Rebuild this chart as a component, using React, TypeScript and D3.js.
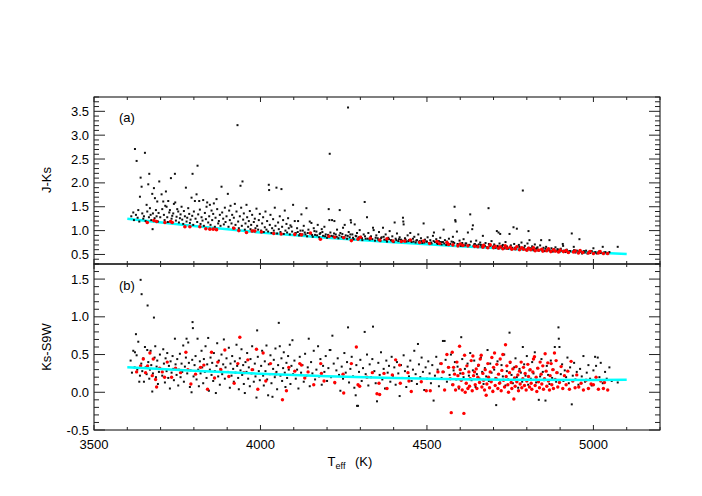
import React from "react";
import * as d3 from "d3";

type P = [number, number];

const xTickLabels = [3500, 4000, 4500, 5000];
const topTickLabels = [0.5, 1.0, 1.5, 2.0, 2.5, 3.0, 3.5];
const botTickLabels = [-0.5, 0.0, 0.5, 1.0, 1.5];

const topFit: P[] = [[3600,1.25],[3800,1.095],[4000,0.96],[4200,0.85],[4400,0.755],[4600,0.67],[4800,0.6],[5000,0.54],[5100,0.51]];
const botFit: P[] = [[3600,0.33],[3800,0.285],[4000,0.245],[4200,0.212],[4400,0.188],[4600,0.172],[4800,0.165],[5000,0.164],[5100,0.166]];

const topBlack: P[] = [
[3612,1.30],[3618,1.38],[3620,1.22],[3623,2.71],[3626,1.33],[3628,2.46],[3631,1.27],[3633,1.43],[3636,1.19],[3638,1.71],[3640,2.11],[3643,1.92],[3645,1.36],[3648,1.25],[3650,1.30],[3653,2.63],[3655,1.20],[3658,1.54],[3660,1.40],[3663,1.97],[3665,1.28],[3666,2.19],[3668,1.47],[3670,1.33],[3672,1.22],[3675,1.77],[3676,1.03],[3677,1.36],[3680,1.89],[3682,1.26],[3683,1.68],[3686,1.43],[3688,1.30],[3690,1.61],[3692,1.19],[3694,1.37],[3696,2.03],[3699,1.28],
[3703,1.76],[3705,1.45],[3708,1.61],[3710,1.33],[3712,1.22],[3714,1.52],[3716,1.82],[3718,1.50],[3720,1.28],[3722,1.18],[3723,1.62],[3726,1.38],[3728,1.43],[3731,2.10],[3733,1.25],[3735,1.31],[3738,1.36],[3740,1.56],[3743,2.19],[3744,1.59],[3746,1.21],[3748,1.29],[3750,1.45],[3753,1.40],[3755,1.17],[3758,1.26],[3760,1.34],[3763,1.50],[3765,1.23],[3768,1.14],[3770,1.41],[3773,1.30],[3776,1.90],[3778,1.19],[3780,1.27],[3783,1.47],[3786,1.35],[3788,1.16],[3790,1.23],[3793,1.69],[3795,1.31],[3796,2.19],[3798,1.12],[3800,1.40],
[3803,1.62],[3805,1.25],[3808,1.76],[3810,1.18],[3811,2.36],[3813,1.34],[3816,1.62],[3818,1.44],[3820,1.14],[3823,1.28],[3826,1.21],[3828,1.64],[3830,1.10],[3833,1.37],[3836,1.24],[3838,1.50],[3840,1.59],[3843,1.17],[3846,1.30],[3848,1.54],[3850,1.12],[3853,1.42],[3855,1.22],[3858,1.35],[3860,1.57],[3863,1.08],[3865,1.27],[3868,1.66],[3870,1.45],[3873,1.15],[3875,1.20],[3878,1.33],[3880,1.10],[3883,1.92],[3885,1.38],[3888,1.25],[3890,1.13],[3893,1.48],[3895,1.18],[3898,1.30],
[3902,1.77],[3904,1.08],[3906,1.42],[3908,1.22],[3910,1.52],[3913,1.15],[3915,1.33],[3918,1.06],[3920,1.27],[3923,1.56],[3925,1.12],[3928,1.40],[3931,3.21],[3933,1.19],[3935,1.05],[3938,1.30],[3940,1.94],[3942,1.48],[3944,1.10],[3946,2.03],[3948,1.23],[3950,1.36],[3953,1.02],[3955,1.15],[3958,1.54],[3960,1.28],[3963,1.08],[3965,1.20],[3968,1.41],[3970,1.03],[3972,1.12],[3975,1.33],[3978,1.00],[3980,1.18],[3983,1.25],[3985,1.05],[3988,1.46],[3990,1.10],[3993,1.02],[3995,1.22],[3998,1.35],
[4002,1.00],[4005,1.15],[4008,1.28],[4010,0.97],[4013,1.07],[4015,1.40],[4018,1.02],[4020,1.20],[4023,0.98],[4025,1.96],[4026,1.85],[4028,1.12],[4030,1.33],[4033,0.95],[4035,1.05],[4038,1.24],[4040,1.00],[4043,1.48],[4045,1.10],[4048,1.90],[4050,0.94],[4053,1.17],[4055,1.03],[4058,1.30],[4060,0.97],[4063,1.87],[4065,1.08],[4068,1.22],[4070,0.93],[4073,1.42],[4075,1.00],[4078,1.14],[4080,0.96],[4083,1.26],[4085,1.05],[4088,0.92],[4090,1.11],[4093,1.08],[4095,0.98],[4098,1.54],
[4103,1.20],[4106,0.95],[4110,1.05],[4113,1.20],[4116,0.90],[4120,1.00],[4123,1.34],[4126,0.92],[4130,1.10],[4133,0.96],[4138,1.47],[4140,0.88],[4144,1.02],[4148,1.19],[4150,0.94],[4153,1.16],[4157,0.87],[4160,1.05],[4164,0.91],[4168,0.98],[4172,1.12],[4176,0.86],[4180,0.95],[4184,1.03],[4188,0.89],[4192,1.08],[4196,0.92],[4200,0.85],[4205,1.45],[4207,1.22],[4208,2.61],[4210,0.96],[4215,1.22],[4218,0.88],[4222,1.20],[4226,0.92],[4230,1.02],[4234,0.84],[4238,1.43],[4240,0.95],[4244,0.87],[4248,1.06],[4253,1.12],[4256,0.90],[4260,0.83],[4263,3.58],[4265,0.97],[4268,0.86],[4271,1.22],[4272,1.17],[4276,0.92],[4280,0.82],[4283,1.13],[4286,0.89],[4290,0.95],[4294,0.84],[4298,1.01],
[4302,0.87],[4306,0.80],[4310,0.92],[4313,1.60],[4316,0.83],[4320,1.28],[4324,0.95],[4328,0.81],[4332,0.88],[4338,1.06],[4340,1.01],[4344,0.79],[4348,0.90],[4352,0.84],[4356,0.97],[4360,0.78],[4364,0.86],[4368,1.06],[4372,0.81],[4376,0.92],[4380,0.77],[4384,0.85],[4388,0.99],[4392,0.80],[4396,0.88],[4400,0.76],[4403,1.17],[4406,0.83],[4410,0.94],[4414,0.78],[4418,0.86],[4422,0.81],[4428,1.27],[4429,1.19],[4430,1.13],[4434,0.84],[4438,0.77],[4442,0.90],[4446,0.80],[4450,0.95],[4454,0.76],[4458,0.83],[4462,0.87],[4466,0.75],[4470,0.80],[4474,0.92],[4478,0.78],[4482,0.84],[4486,0.74],[4490,1.15],[4494,0.81],[4498,0.77],
[4502,0.86],[4506,0.74],[4510,0.80],[4514,0.73],[4518,0.89],[4521,0.96],[4524,0.76],[4528,0.82],[4532,0.72],[4536,0.78],[4540,0.85],[4544,0.71],[4548,0.76],[4550,1.02],[4554,0.80],[4558,0.70],[4562,0.74],[4566,0.83],[4570,0.72],[4574,0.77],[4578,0.87],[4579,0.76],[4583,1.50],[4585,1.22],[4586,1.19],[4590,0.98],[4594,0.71],[4598,0.79],[4602,0.68],[4606,0.74],[4610,0.82],[4614,0.69],[4618,0.73],[4623,0.96],[4626,0.70],[4630,1.34],[4632,0.77],[4636,1.03],[4638,1.11],[4640,0.68],[4644,0.72],[4648,0.79],[4652,0.67],[4656,0.71],[4660,0.75],[4664,0.66],[4668,0.89],[4672,0.70],[4676,0.74],[4680,0.65],[4685,1.47],[4686,0.72],[4690,0.68],[4694,0.78],[4698,0.66],
[4702,0.71],[4706,0.64],[4710,0.99],[4712,0.68],[4715,0.96],[4718,0.73],[4720,0.93],[4724,0.65],[4728,0.70],[4732,0.63],[4736,0.76],[4740,0.67],[4744,0.62],[4748,0.93],[4752,0.69],[4756,0.64],[4760,1.07],[4762,0.72],[4766,0.61],[4770,1.04],[4772,0.66],[4776,0.70],[4780,0.62],[4784,0.75],[4788,1.84],[4790,0.64],[4794,0.68],[4798,0.60],[4802,0.73],[4805,0.99],[4808,0.80],[4812,0.63],[4816,0.67],[4820,0.59],[4824,0.71],[4828,0.62],[4832,0.65],[4836,0.58],[4840,0.69],[4843,0.80],[4846,0.61],[4850,0.64],[4854,0.57],[4858,0.66],[4862,0.60],[4868,0.80],[4870,0.58],[4874,0.63],[4878,0.56],[4882,0.61],[4886,0.65],[4890,0.57],[4894,0.60],[4898,0.55],[4902,0.62],[4908,0.72],[4909,0.68],[4912,0.58],[4916,0.55],[4920,0.60],[4924,0.54],[4928,0.57],[4935,0.94],[4938,0.56],[4941,0.66],[4942,0.59],[4946,0.54],[4950,0.58],[4954,0.53],[4958,0.82],[4962,0.56],[4966,0.52],[4970,0.56],[4974,0.54],[4978,0.58],[4982,0.52],[4986,0.55],[4990,0.53],[4995,0.57],[5000,0.63],[5004,0.54],[5010,0.52],[5016,0.55],[5022,0.53],[5028,0.66],[5032,0.54],[5040,0.52],[5048,0.55],[5073,0.66],
[4104,0.94],[4112,0.97],[4119,0.93],[4127,1.00],[4135,0.92],[4142,0.95],[4155,0.91],[4162,0.99],[4170,0.90],[4178,0.93],[4186,0.97],[4194,0.88],[4203,0.91],[4213,0.89],[4221,0.94],[4229,0.87],[4237,0.90],[4246,0.93],[4252,0.86],[4262,0.89],[4270,0.92],[4278,0.85],[4288,0.88],[4296,0.86],[4305,0.84],[4314,0.88],[4322,0.83],[4330,0.86],[4336,0.82],[4346,0.85],[4354,0.81],[4362,0.84],[4370,0.87],[4378,0.80],[4386,0.82],[4394,0.79],[4408,0.80],[4416,0.82],[4425,0.79],[4436,0.81],[4444,0.78],[4452,0.80],[4460,0.77],[4468,0.79],[4476,0.76],[4484,0.78],[4492,0.75],[4500,0.77],[4512,0.75],[4520,0.78],[4530,0.74],[4542,0.76],[4552,0.73],[4560,0.77],[4568,0.72],[4582,0.74],[4592,0.72],[4604,0.71],[4616,0.73],[4628,0.70],[4642,0.71],[4650,0.69],[4662,0.70],[4674,0.68],[4688,0.69],[4700,0.67],[4714,0.66],[4726,0.68],[4738,0.65],[4750,0.66],[4764,0.64],[4778,0.66],[4792,0.63],[4806,0.64],[4818,0.62],[4830,0.63],[4844,0.60],[4856,0.62],[4866,0.60],[4880,0.59],[4892,0.61],[4904,0.58],[4918,0.59],[4930,0.57],[4944,0.58],[4956,0.56],[4972,0.57],[4988,0.56],[5006,0.55],[5018,0.57],[5036,0.55]
];

const topRed: P[] = [
[3660,1.17],[3680,1.21],[3688,1.19],[3713,1.17],[3730,1.19],[3735,1.17],[3773,1.08],[3788,1.08],[3818,1.08],[3836,1.04],[3848,1.03],[3858,1.03],[3868,1.02],[3920,1.05],[3935,1.00],[3958,0.96],[3975,0.99],[3983,0.99],[4003,0.97],[4040,0.94],[4062,0.93],[4103,0.92],[4123,0.91],[4150,0.95],[4180,0.82],[4206,0.88],[4223,0.86],[4250,0.85],[4273,0.79],[4293,0.82],[4300,0.86],[4330,0.84],[4358,0.80],[4380,0.83],[4398,0.78],[4423,0.77],[4433,0.78],[4450,0.80],[4478,0.75],[4490,0.78],[4508,0.73],[4530,0.77],[4538,0.73],[4560,0.75],[4565,0.71],[4578,0.70],[4593,0.68],[4600,0.72],[4608,0.69],[4623,0.68],[4643,0.67],[4653,0.66],[4668,0.65],[4670,0.69],[4683,0.64],[4690,0.70],[4700,0.64],[4705,0.67],[4715,0.63],[4720,0.66],[4728,0.62],[4735,0.68],[4740,0.63],[4750,0.65],[4755,0.61],[4765,0.62],[4770,0.66],[4778,0.60],[4785,0.64],[4790,0.61],[4800,0.59],[4805,0.63],[4812,0.60],[4820,0.64],[4825,0.58],[4835,0.59],[4845,0.61],[4848,0.57],[4860,0.58],[4865,0.62],[4872,0.56],[4880,0.60],[4885,0.57],[4895,0.55],[4900,0.59],[4910,0.56],[4918,0.58],[4925,0.54],[4940,0.55],[4945,0.57],[4955,0.53],[4960,0.58],[4968,0.54],[4985,0.53],[4990,0.56],[5000,0.52],[5015,0.53],[5020,0.56],[5030,0.52],[5043,0.52]
];

const botBlack: P[] = [
[3610,0.42],[3614,0.26],[3618,0.55],[3622,0.33],[3623,0.53],[3626,0.77],[3628,0.49],[3630,0.30],[3633,0.67],[3636,0.14],[3638,0.22],[3640,1.49],[3642,0.38],[3643,1.30],[3645,0.28],[3648,0.45],[3650,0.14],[3653,0.60],[3655,0.33],[3658,0.24],[3660,0.56],[3661,1.15],[3663,0.40],[3666,0.18],[3668,0.30],[3670,0.55],[3672,0.36],[3675,0.01],[3677,0.25],[3680,0.99],[3682,0.46],[3684,0.61],[3686,0.20],[3688,0.34],[3690,0.42],[3692,0.11],[3695,0.27],[3698,0.50],
[3702,0.31],[3705,0.22],[3708,0.57],[3710,0.38],[3713,0.13],[3715,0.45],[3718,0.28],[3720,0.52],[3723,0.19],[3725,0.35],[3728,0.05],[3730,0.41],[3733,0.26],[3736,0.48],[3738,0.31],[3740,0.16],[3743,0.71],[3745,0.37],[3748,0.23],[3750,0.44],[3753,0.09],[3755,0.30],[3758,0.51],[3760,0.20],[3763,0.38],[3765,0.27],[3768,0.62],[3770,0.14],[3773,0.34],[3776,0.46],[3778,0.71],[3780,0.25],[3783,0.66],[3785,0.39],[3788,0.07],[3790,0.29],[3793,0.00],[3795,0.43],[3796,0.93],[3797,0.85],[3799,0.21],
[3802,0.36],[3805,0.48],[3808,0.17],[3811,0.71],[3813,0.30],[3815,0.08],[3818,0.41],[3820,0.25],[3823,0.55],[3825,0.33],[3828,0.12],[3830,0.44],[3833,0.27],[3835,0.61],[3838,0.19],[3840,0.37],[3843,0.72],[3845,0.02],[3848,0.30],[3850,0.46],[3853,0.23],[3855,0.39],[3858,0.15],[3860,0.52],[3863,0.28],[3866,-0.01],[3868,0.35],[3870,0.65],[3873,0.21],[3875,0.42],[3878,0.10],[3880,0.31],[3883,0.50],[3885,0.24],[3888,0.37],[3890,0.70],[3893,0.18],[3895,0.33],[3898,0.45],
[3902,0.27],[3905,0.59],[3908,0.06],[3910,0.38],[3913,0.22],[3915,0.48],[3918,0.31],[3920,0.14],[3923,0.41],[3925,0.26],[3928,0.63],[3930,0.35],[3933,0.19],[3935,0.04],[3938,0.45],[3940,0.29],[3943,0.57],[3945,0.23],[3948,0.36],[3950,0.11],[3953,-0.01],[3955,0.40],[3958,0.27],[3960,0.52],[3963,0.18],[3965,0.33],[3968,0.08],[3970,0.44],[3973,0.25],[3975,0.61],[3978,0.30],[3980,0.14],[3983,0.38],[3985,0.21],[3988,-0.07],[3990,0.82],[3992,0.47],[3995,0.28],[3998,0.16],
[4002,0.35],[4005,0.55],[4008,0.22],[4010,0.09],[4013,0.41],[4015,0.28],[4018,0.62],[4020,0.17],[4023,-0.04],[4025,0.37],[4028,0.24],[4030,0.49],[4033,0.12],[4036,-0.06],[4038,0.31],[4040,0.43],[4043,0.20],[4045,0.58],[4048,0.27],[4050,0.04],[4053,0.36],[4055,0.92],[4058,0.61],[4060,0.22],[4063,0.45],[4065,0.15],[4068,0.32],[4070,0.53],[4073,0.26],[4075,0.07],[4078,0.39],[4080,0.19],[4083,0.48],[4085,0.30],[4088,0.63],[4090,0.11],[4093,0.35],[4096,0.69],[4098,0.24],
[4102,0.42],[4106,0.18],[4110,0.30],[4114,0.05],[4118,0.47],[4122,0.26],[4126,0.36],[4130,0.14],[4134,0.51],[4138,0.22],[4142,0.33],[4145,0.71],[4148,0.08],[4152,0.40],[4156,0.25],[4160,0.55],[4164,0.17],[4168,0.30],[4173,0.61],[4176,0.21],[4180,0.44],[4184,0.10],[4188,0.35],[4192,0.27],[4196,0.48],[4200,0.15],[4204,0.32],[4208,0.56],[4210,0.56],[4212,0.20],[4216,0.75],[4220,0.38],[4224,0.12],[4228,0.29],[4232,0.45],[4236,0.23],[4240,0.02],[4244,0.34],[4248,0.18],[4252,0.52],[4256,0.26],[4260,0.40],[4263,0.86],[4266,0.13],[4270,0.31],[4274,0.47],[4278,0.21],[4282,0.06],[4286,-0.04],[4288,0.36],[4290,-0.18],[4293,-0.18],[4296,0.27],
[4300,0.43],[4304,0.15],[4308,0.32],[4313,0.80],[4316,0.24],[4320,0.50],[4324,0.09],[4328,0.37],[4332,0.20],[4336,0.44],[4338,0.87],[4342,0.28],[4346,0.12],[4350,-0.12],[4354,0.39],[4358,0.23],[4362,0.53],[4366,0.17],[4370,0.31],[4374,0.05],[4378,0.42],[4382,0.26],[4386,0.35],[4390,0.14],[4394,0.47],[4398,0.22],[4402,0.33],[4406,0.10],[4410,0.40],[4414,0.25],[4418,-0.05],[4422,0.36],[4426,0.19],[4430,0.49],[4434,0.28],[4438,0.07],[4442,0.34],[4446,0.21],[4450,0.42],[4454,0.15],[4458,0.30],[4462,0.55],[4466,0.24],[4470,0.11],[4473,0.64],[4476,0.37],[4480,0.20],[4484,0.46],[4488,0.27],[4492,0.03],[4496,0.33],
[4500,0.18],[4504,0.41],[4508,0.25],[4512,0.12],[4516,0.36],[4520,-0.11],[4524,0.22],[4528,0.47],[4532,0.30],[4536,0.08],[4540,0.38],[4544,0.19],[4548,0.68],[4550,0.27],[4553,0.68],[4556,0.43],[4560,0.14],[4564,0.33],[4568,0.23],[4572,0.50],[4576,0.10],[4580,0.29],[4584,0.40],[4588,0.17],[4592,0.34],[4596,0.05],[4600,0.25],[4603,0.73],[4606,0.44],[4610,0.20],[4614,0.31],[4618,0.12],[4622,0.38],[4626,0.22],[4630,0.52],[4634,0.16],[4638,0.29],[4642,0.42],[4646,0.07],[4650,0.24],[4654,0.35],[4658,0.18],[4662,0.46],[4666,0.27],[4670,0.11],[4674,0.32],[4678,0.21],[4682,0.56],[4686,0.15],[4690,0.38],[4694,0.26],[4698,0.02],
[4702,0.30],[4706,0.19],[4708,-0.17],[4712,0.41],[4716,0.24],[4720,0.13],[4724,0.36],[4728,0.21],[4732,0.50],[4736,0.09],[4740,0.28],[4744,0.17],[4748,0.79],[4750,0.39],[4754,0.23],[4758,0.12],[4762,0.33],[4766,0.45],[4770,0.20],[4774,0.06],[4778,0.31],[4782,0.26],[4786,0.14],[4788,0.60],[4792,0.37],[4796,0.22],[4800,0.48],[4804,0.10],[4808,0.29],[4812,0.18],[4816,0.40],[4820,0.25],[4824,0.53],[4828,0.13],[4832,0.32],[4836,-0.10],[4840,0.21],[4844,0.44],[4848,0.27],[4852,0.16],[4856,-0.11],[4860,0.35],[4864,0.23],[4868,0.11],[4872,0.42],[4876,0.19],[4880,0.30],[4884,0.60],[4888,0.14],[4892,0.26],[4895,0.86],[4896,0.71],[4898,0.60],
[4902,0.24],[4906,0.37],[4910,0.15],[4914,0.29],[4918,0.20],[4922,0.46],[4926,0.12],[4930,0.33],[4935,-0.16],[4938,0.22],[4942,0.39],[4946,0.17],[4950,0.27],[4955,0.10],[4960,0.31],[4965,0.21],[4970,0.48],[4975,0.14],[4980,0.26],[4985,0.36],[4990,0.18],[4995,0.09],[5000,0.29],[5005,0.47],[5008,0.35],[5013,0.46],[5018,0.20],[5022,0.39],[5028,0.12],[5035,0.27],[5040,0.18],[5048,0.33],[5055,0.15],[5073,0.13]
];

const botRed: P[] = [
[3628,0.27],[3640,0.35],[3648,0.44],[3655,0.26],[3661,0.35],[3668,0.52],[3675,0.22],[3678,0.44],[3685,0.17],[3688,0.07],[3697,0.32],[3705,0.27],[3712,0.20],[3720,0.40],[3733,0.20],[3745,0.32],[3760,0.26],[3776,0.53],[3782,0.30],[3791,0.11],[3805,0.24],[3820,0.33],[3830,0.36],[3841,0.04],[3853,0.53],[3862,0.19],[3872,0.40],[3881,0.30],[3893,0.56],[3905,0.21],[3921,0.12],[3932,0.38],[3938,0.73],[3950,0.26],[3962,0.43],[3975,0.30],[3988,0.57],[3992,0.04],[4008,0.52],[4016,0.15],[4030,0.38],[4045,0.24],[4066,-0.10],[4078,0.02],[4085,0.33],
[4103,0.28],[4118,0.38],[4123,0.36],[4133,0.19],[4143,0.27],[4160,0.10],[4181,0.38],[4183,0.25],[4191,0.15],[4223,0.13],[4248,0.24],[4250,-0.01],[4273,0.38],[4288,0.60],[4293,0.10],[4298,0.08],[4320,0.20],[4336,0.26],[4350,-0.02],[4356,0.12],[4358,-0.03],[4371,0.25],[4380,0.05],[4396,0.23],[4406,0.43],[4418,0.36],[4420,0.12],[4443,0.26],[4446,0.15],[4453,0.01],[4483,0.14],[4498,0.02],[4510,0.02],[4533,0.27],[4543,0.38],[4548,0.27],[4553,0.03],
[4560,0.50],[4565,0.33],[4570,0.18],[4573,-0.27],[4576,0.53],[4578,0.10],[4580,0.33],[4583,0.24],[4586,0.03],[4590,0.40],[4593,0.22],[4596,0.07],[4598,0.61],[4600,0.30],[4603,0.16],[4606,0.03],[4608,0.25],[4611,-0.28],[4613,0.49],[4615,0.00],[4618,0.12],[4620,0.35],[4623,0.05],[4626,0.27],[4628,0.08],[4630,0.18],[4633,0.42],[4636,0.02],[4638,0.48],[4640,0.22],[4643,0.27],[4645,0.10],[4648,0.31],[4650,0.05],[4653,0.20],[4655,0.36],[4658,0.13],[4660,0.44],[4663,0.49],[4665,0.07],[4668,0.25],[4670,0.16],[4673,0.03],[4675,0.30],[4678,-0.04],[4680,0.11],[4683,0.38],[4685,0.20],[4688,0.06],[4690,0.27],[4693,0.14],[4695,0.46],[4698,0.01],[4700,0.33],[4703,0.52],[4705,0.09],[4708,0.18],[4710,0.37],[4713,0.05],[4715,0.24],[4718,0.12],[4720,0.44],[4723,0.02],[4725,0.29],[4728,0.50],[4730,0.16],[4733,0.07],[4736,0.63],[4738,0.21],[4740,0.35],[4743,0.10],[4745,0.00],[4748,0.26],[4750,0.40],[4753,0.13],[4755,0.05],[4758,0.31],[4761,-0.09],[4763,0.19],[4765,0.08],[4768,0.34],[4770,0.14],[4773,0.23],[4775,0.02],[4778,0.28],[4780,0.11],[4783,0.40],[4785,0.06],[4788,0.18],[4790,0.33],[4793,0.09],[4795,0.25],[4798,0.03],[4800,0.15],[4803,0.37],[4805,0.21],[4808,0.07],[4810,0.30],[4813,0.12],[4815,0.04],[4818,0.27],[4820,0.44],[4823,0.47],[4825,0.09],[4828,0.20],[4830,0.01],[4833,0.32],[4835,0.14],[4838,0.06],[4840,0.40],[4843,0.24],[4845,0.11],[4848,0.35],[4850,0.04],[4853,0.18],[4855,0.51],[4858,0.28],[4860,0.08],[4863,0.39],[4865,0.15],[4868,0.03],[4870,0.22],[4873,0.38],[4875,0.10],[4878,0.30],[4880,0.05],[4883,0.52],[4885,0.17],[4888,0.42],[4890,0.26],[4893,0.07],[4898,0.13],[4903,0.34],[4908,0.05],[4913,0.22],[4918,0.10],[4923,0.28],[4928,0.04],[4933,0.41],[4938,0.15],[4945,0.06],[4950,0.23],[4956,0.07],[4963,0.12],[4970,0.03],[4978,0.16],[4985,0.05],[4993,0.11],[5000,0.10],[5008,0.20],[5015,0.04],[5022,0.15],[5030,0.05],[5033,0.13],[5043,0.03]
];

const W = 702, H = 496;
const L = 94, R = 660, T0 = 97, MID = 264, B = 430;
const FONT = "'Liberation Sans', Arial, sans-serif";

export default function App() {
  const x = d3.scaleLinear().domain([3500, 5200]).range([L, R]);
  const yTop = d3.scaleLinear().domain([0.3, 3.8]).range([MID, T0]);
  const yBot = d3.scaleLinear().domain([-0.5, 1.7]).range([B, MID]);

  const xMinor = d3.range(3500, 5201, 100);
  const topMinor = d3.range(3, 39, 1).map((v) => v / 10);
  const botMinor = d3.range(-5, 18, 1).map((v) => v / 10);
  const isMajorX = (v: number) => v % 500 === 0;
  const isMajorY = (v: number) => Math.abs(Math.round(v * 2) - v * 2) < 1e-6;

  const lineTop = d3.line<P>().x((d) => x(d[0])).y((d) => yTop(d[1])).curve(d3.curveMonotoneX);
  const lineBot = d3.line<P>().x((d) => x(d[0])).y((d) => yBot(d[1])).curve(d3.curveMonotoneX);

  const tickColor = "#222";

  const xTicksAt = (y0: number, dir: number, key: string) =>
    xMinor.map((v) => {
      const len = isMajorX(v) ? 5 : 3;
      return <line key={key + v} x1={x(v)} x2={x(v)} y1={y0} y2={y0 + dir * len} stroke={tickColor} strokeWidth={1} />;
    });

  const yTicks = (vals: number[], ys: d3.ScaleLinear<number, number>, key: string) =>
    vals.flatMap((v) => {
      const len = isMajorY(v) ? 11 : 5;
      const yy = ys(v);
      return [
        <line key={key + "l" + v} x1={L} x2={L + len} y1={yy} y2={yy} stroke={tickColor} strokeWidth={1} />,
        <line key={key + "r" + v} x1={R} x2={R - len} y1={yy} y2={yy} stroke={tickColor} strokeWidth={1} />,
      ];
    });

  const fmt = (v: number) => (v < 0 ? "-" : "") + Math.abs(v).toFixed(1);

  return (
    <svg width={W} height={H} style={{ position: "absolute", left: 0, top: 0, background: "#fff" }} fontFamily={FONT}>
      <rect x={0} y={0} width={W} height={H} fill="#fff" />
      {/* top panel: fit line under the points */}
      <path d={lineTop(topFit) || ""} fill="none" stroke="#00ffff" strokeWidth={2.5} />
      <g>
        {topBlack.map((d, i) => (
          <rect key={"tb" + i} x={x(d[0]) - 1} y={yTop(d[1]) - 1} width={2} height={2} fill="#111" />
        ))}
        {topRed.map((d, i) => (
          <circle key={"tr" + i} cx={x(d[0])} cy={yTop(d[1])} r={1.8} fill="#ff0000" />
        ))}
      </g>
      {/* bottom panel */}
      <g>
        {botBlack.map((d, i) => (
          <rect key={"bb" + i} x={x(d[0]) - 1} y={yBot(d[1]) - 1} width={2} height={2} fill="#111" />
        ))}
        {botRed.map((d, i) => (
          <circle key={"br" + i} cx={x(d[0])} cy={yBot(d[1])} r={1.7} fill="#ff0000" />
        ))}
      </g>
      <path d={lineBot(botFit) || ""} fill="none" stroke="#00ffff" strokeWidth={2.5} />

      {/* frames */}
      <rect x={L} y={T0} width={R - L} height={MID - T0} fill="none" stroke="#000" strokeWidth={1} />
      <rect x={L} y={MID} width={R - L} height={B - MID} fill="none" stroke="#000" strokeWidth={1} />

      {xTicksAt(T0, 1, "t")}
      {xTicksAt(MID, -1, "mu")}
      {xTicksAt(MID, 1, "md")}
      {xTicksAt(B, -1, "b")}
      {yTicks(topMinor, yTop, "yt")}
      {yTicks(botMinor, yBot, "yb")}

      {/* tick labels */}
      {topTickLabels.map((v) => (
        <text key={"tl" + v} x={89} y={yTop(v) + 4.5} textAnchor="end" fontSize={13} fill="#000">{fmt(v)}</text>
      ))}
      {botTickLabels.map((v) => (
        <text key={"bl" + v} x={89} y={yBot(v) + 4.5} textAnchor="end" fontSize={13} fill="#000">{fmt(v)}</text>
      ))}
      {xTickLabels.map((v) => (
        <text key={"xl" + v} x={x(v)} y={449} textAnchor="middle" fontSize={13} fill="#000">{v}</text>
      ))}

      {/* panel labels */}
      <text x={119} y={122} fontSize={13} fill="#000">(a)</text>
      <text x={119} y={290} fontSize={13} fill="#000">(b)</text>

      {/* axis titles */}
      <text transform="translate(51,180) rotate(-90)" textAnchor="middle" fontSize={13} fill="#000">J-Ks</text>
      <text transform="translate(51,347) rotate(-90)" textAnchor="middle" fontSize={13} fill="#000">Ks-S9W</text>
      <text x={350} y={466} textAnchor="middle" fontSize={13} fill="#000">
        T<tspan fontSize={9} dy={3}>eff</tspan><tspan dy={-3}>{"  "}</tspan><tspan dx={6}>(K)</tspan>
      </text>
    </svg>
  );
}
